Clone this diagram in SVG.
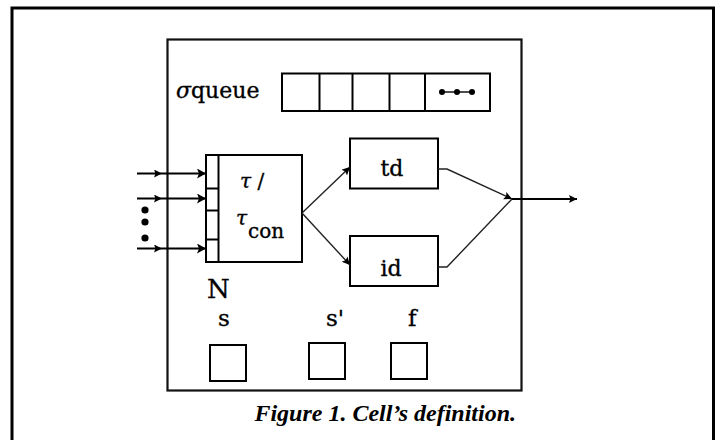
<svg xmlns="http://www.w3.org/2000/svg" width="716" height="440" viewBox="0 0 716 440">
<style>
.box{fill:none;stroke:#000;stroke-width:2}
.lbl{font-family:"DejaVu Serif","Liberation Serif",serif;fill:#000;stroke:#000;stroke-width:0.35}
.conn{fill:none;stroke:#000;stroke-width:2}
.diag{fill:none;stroke:#222;stroke-width:1.4}
.cap{font-family:"Liberation Serif","Times New Roman",serif;font-weight:bold;font-style:italic;font-size:24px;fill:#000}
</style>
<defs>
<marker id="arr" markerUnits="userSpaceOnUse" markerWidth="12" markerHeight="12" refX="9" refY="5" orient="auto">
<path d="M0,0 L9,5 L0,10 L2,5 z" fill="#000"/>
</marker>
<marker id="arrs" markerUnits="userSpaceOnUse" markerWidth="10" markerHeight="10" refX="8" refY="4" orient="auto">
<path d="M0,0 L8,4 L0,8 L1.5,4 z" fill="#000"/>
</marker>
</defs>
<rect width="716" height="440" fill="#fff"/>
<g id="frame">
<rect x="12" y="8" width="701.5" height="470" fill="none" stroke="#000" stroke-width="3"/>
</g>
<g id="cell">
<rect x="167.5" y="39.5" width="354" height="351" fill="none" stroke="#111" stroke-width="2.2"/>
</g>
<g id="queue">
<text class="lbl" x="176" y="98" font-size="22"><tspan font-style="italic">σ</tspan>queue</text>
<rect x="282" y="73.5" width="208" height="37.5" class="box"/>
<line x1="319.5" y1="73.5" x2="319.5" y2="111" class="box"/>
<line x1="352.5" y1="73.5" x2="352.5" y2="111" class="box"/>
<line x1="389.5" y1="73.5" x2="389.5" y2="111" class="box"/>
<line x1="425" y1="73.5" x2="425" y2="111" class="box"/>
<line x1="442" y1="92" x2="472" y2="92" stroke="#000" stroke-width="1.4"/>
<circle cx="442" cy="92" r="3"/>
<circle cx="457" cy="92" r="3"/>
<circle cx="472" cy="92" r="3"/>
</g>
<g id="tau">
<rect x="206" y="155" width="96" height="107" class="box"/>
<line x1="218.5" y1="155" x2="218.5" y2="262" class="box"/>
<line x1="206" y1="188.5" x2="218.5" y2="188.5" class="box"/>
<line x1="206" y1="210.5" x2="218.5" y2="210.5" class="box"/>
<line x1="206" y1="239.5" x2="218.5" y2="239.5" class="box"/>
<text class="lbl" x="240" y="188" font-size="20"><tspan font-style="italic">τ</tspan> /</text>
<text class="lbl" x="236" y="225" font-size="20" font-style="italic">τ</text>
<text class="lbl" x="248" y="238" font-size="20">con</text>
</g>
<g id="td">
<rect x="350" y="138.5" width="88" height="50" class="box"/>
<text class="lbl" x="392" y="176" font-size="22" text-anchor="middle">td</text>
</g>
<g id="id">
<rect x="350" y="236" width="88" height="50" class="box"/>
<text class="lbl" x="391" y="276" font-size="22" text-anchor="middle">id</text>
</g>
<g id="N">
<text class="lbl" x="207" y="298" font-size="26">N</text>
</g>
<g id="s">
<text class="lbl" x="218" y="326" font-size="23">s</text>
<rect x="210" y="345" width="36" height="36" class="box"/>
</g>
<g id="s-prime">
<text class="lbl" x="326" y="326" font-size="23">s'</text>
<rect x="309" y="343" width="36" height="36" class="box"/>
</g>
<g id="f">
<text class="lbl" x="408" y="326" font-size="23">f</text>
<rect x="391" y="343" width="36" height="36" class="box"/>
</g>
<g id="connectors">
<g fill="#000">
<circle cx="145" cy="210" r="3.6"/>
<circle cx="145" cy="222" r="3.6"/>
<circle cx="145" cy="238" r="3.6"/>
</g>
<polyline points="137,173.5 162,173.5 206,173.5" class="conn" marker-mid="url(#arrs)" marker-end="url(#arr)"/>
<polyline points="137,198.5 162,198.5 206,198.5" class="conn" marker-mid="url(#arrs)" marker-end="url(#arr)"/>
<polyline points="137,248.5 162,248.5 206,248.5" class="conn" marker-mid="url(#arrs)" marker-end="url(#arr)"/>
<line x1="302" y1="213" x2="350" y2="167" class="diag" marker-end="url(#arrs)"/>
<line x1="302" y1="213" x2="350" y2="265" class="diag" marker-end="url(#arrs)"/>
<polyline points="438,169 447,169 512,199" class="diag" marker-end="url(#arrs)"/>
<polyline points="438,267 447,267 512,199" class="diag"/>
<line x1="512" y1="199" x2="577" y2="199" class="conn" marker-end="url(#arrs)"/>
</g>
<g id="caption">
<text class="cap" x="516" y="421" text-anchor="end">Figure 1. Cell’s definition.</text>
</g>
</svg>
